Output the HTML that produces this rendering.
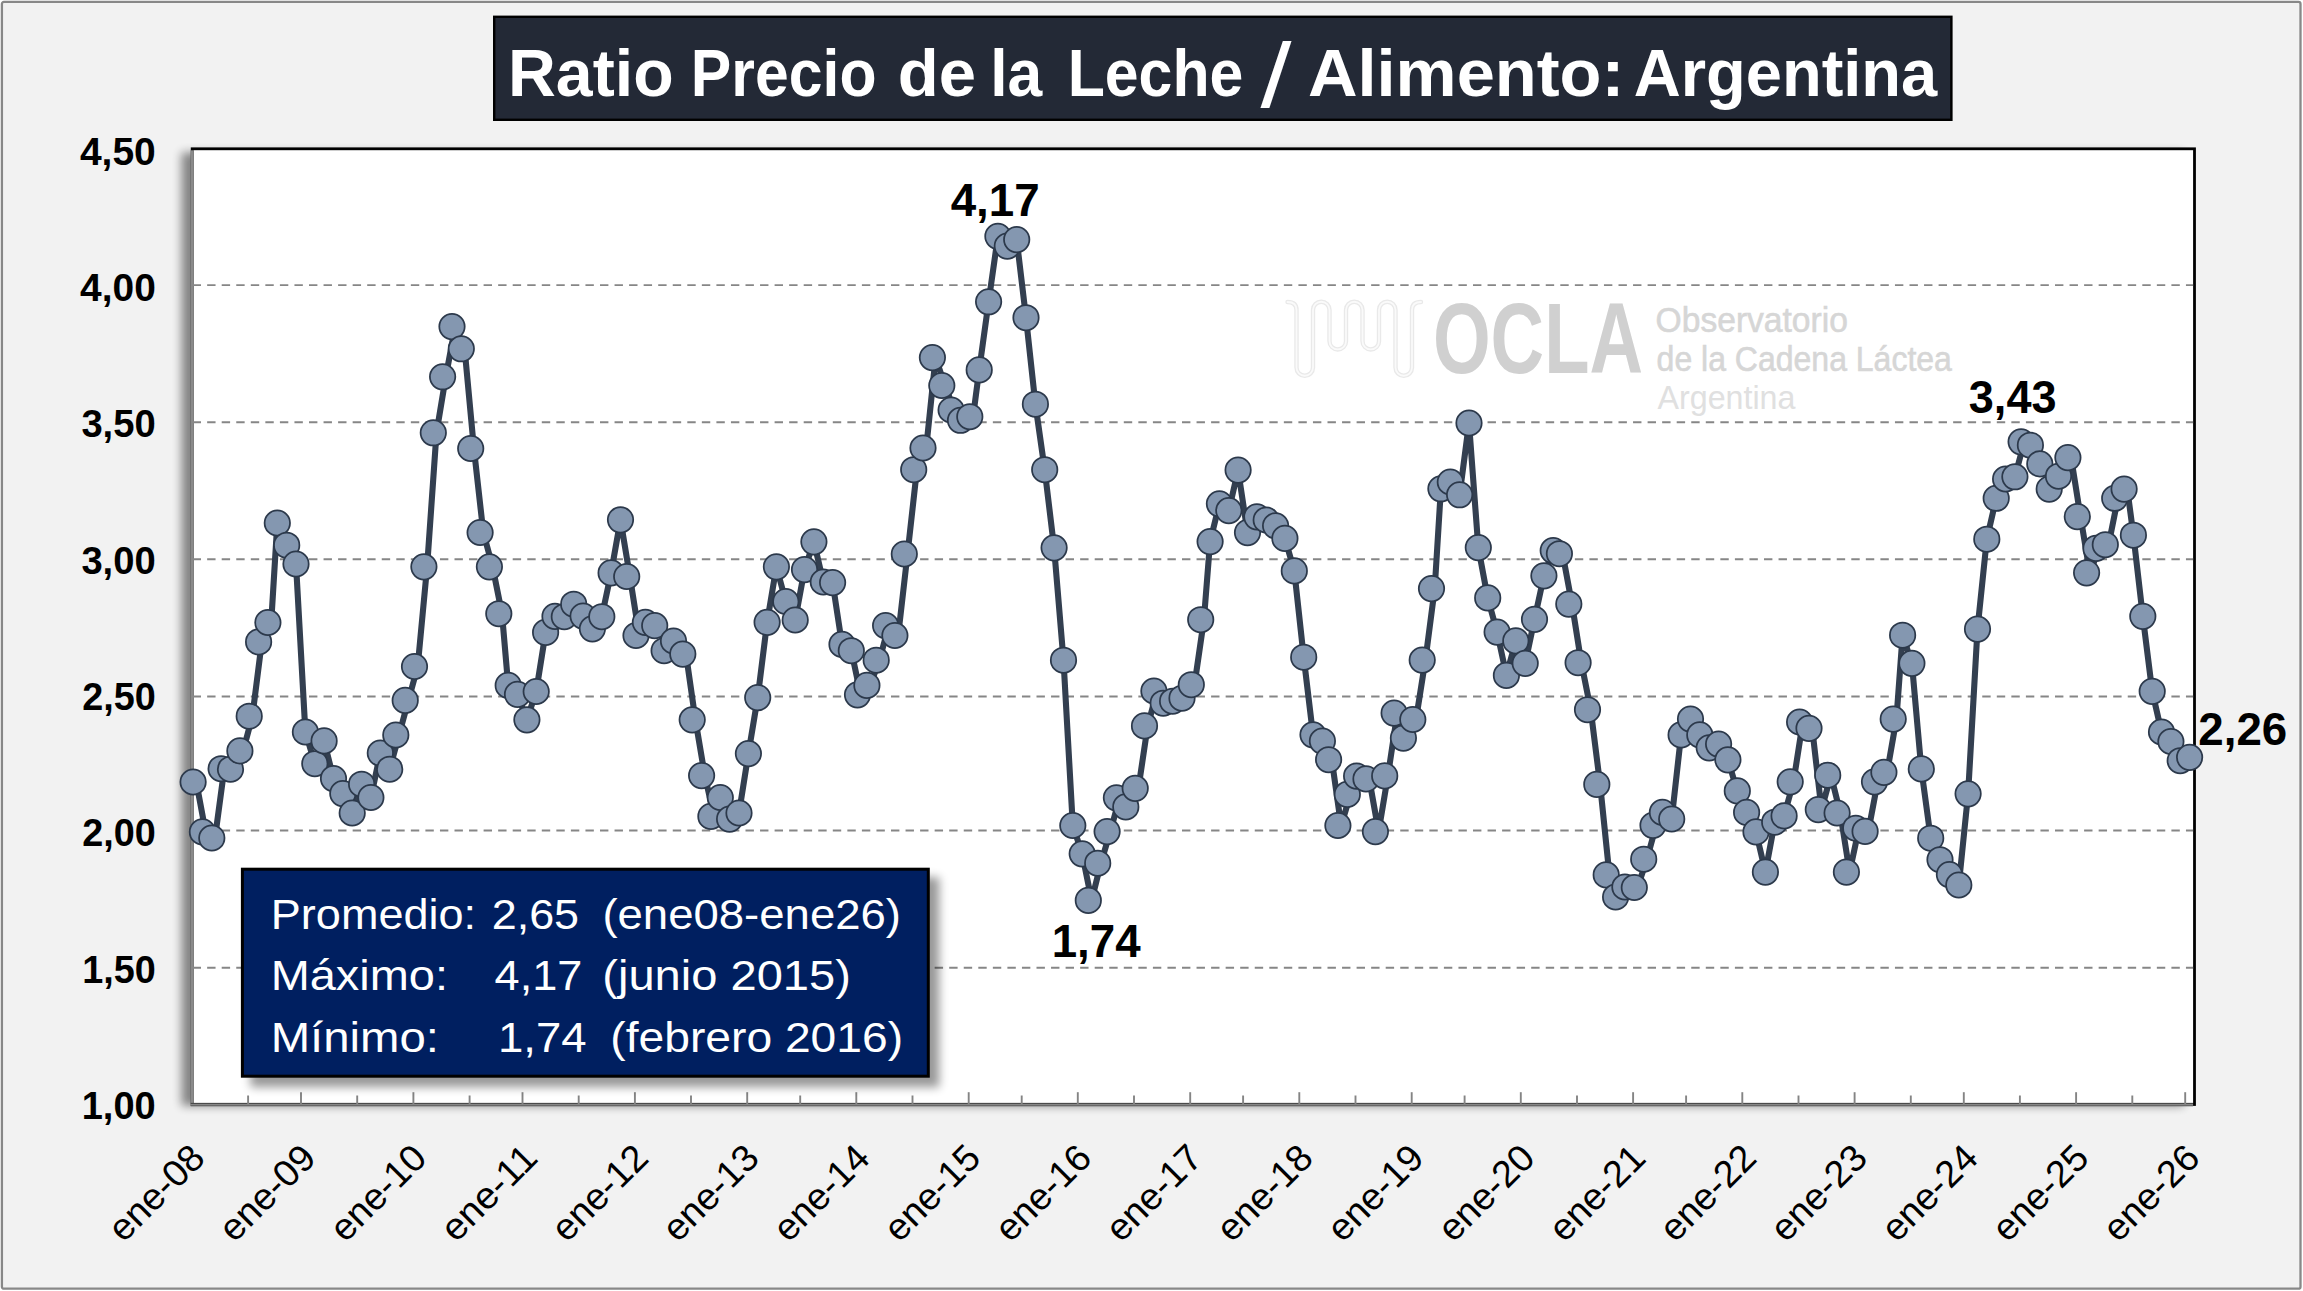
<!DOCTYPE html>
<html lang="es"><head><meta charset="utf-8"><title>Ratio Precio de la Leche / Alimento: Argentina</title>
<style>html,body{margin:0;padding:0;background:#fff}svg{display:block}text{font-family:"Liberation Sans",sans-serif}</style></head><body>
<svg width="2303" height="1291" viewBox="0 0 2303 1291">
<defs><filter id="sh1" x="-5%" y="-5%" width="110%" height="110%"><feGaussianBlur stdDeviation="5"/></filter><filter id="sh2" x="-10%" y="-20%" width="120%" height="140%"><feGaussianBlur stdDeviation="5"/></filter></defs>
<rect x="0" y="0" width="2303" height="1291" fill="#fff"/>
<rect x="1.9" y="1.9" width="2298.6" height="1286.8" rx="2" fill="#f2f2f2" stroke="#888" stroke-width="2.3"/>
<rect x="494.2" y="16.8" width="1457.2" height="103" fill="#232936" stroke="#000" stroke-width="2.4"/>
<g id="title">
<text x="508.0" y="96.4" font-size="66.5" font-weight="bold" fill="#fff" textLength="165.6" lengthAdjust="spacingAndGlyphs">Ratio</text>
<text x="690.8" y="96.4" font-size="66.5" font-weight="bold" fill="#fff" textLength="185.7" lengthAdjust="spacingAndGlyphs">Precio</text>
<text x="897.8" y="96.4" font-size="66.5" font-weight="bold" fill="#fff" textLength="78.3" lengthAdjust="spacingAndGlyphs">de</text>
<text x="990.2" y="96.4" font-size="66.5" font-weight="bold" fill="#fff" textLength="52.0" lengthAdjust="spacingAndGlyphs">la</text>
<text x="1067.7" y="96.4" font-size="66.5" font-weight="bold" fill="#fff" textLength="175.6" lengthAdjust="spacingAndGlyphs">Leche</text>
<text x="1260.5" y="106.6" font-size="90" fill="#fff" textLength="31.0" lengthAdjust="spacingAndGlyphs">/</text>
<text x="1307.9" y="96.4" font-size="66.5" font-weight="bold" fill="#fff" textLength="316.5" lengthAdjust="spacingAndGlyphs">Alimento:</text>
<text x="1633.7" y="96.4" font-size="66.5" font-weight="bold" fill="#fff" textLength="303.6" lengthAdjust="spacingAndGlyphs">Argentina</text>
</g>
<rect x="181.5" y="152.5" width="2002.3" height="953.3" fill="#000" opacity="0.45" filter="url(#sh1)"/>
<rect x="192.2" y="148.8" width="2002.3" height="955.7" fill="#fff" stroke="#000" stroke-width="2.8"/>
<line x1="192.6" x2="2193.1" y1="285.1" y2="285.1" stroke="#868686" stroke-width="1.9" stroke-dasharray="8.4 6.15"/>
<line x1="192.6" x2="2193.1" y1="422.3" y2="422.3" stroke="#868686" stroke-width="1.9" stroke-dasharray="8.4 6.15"/>
<line x1="192.6" x2="2193.1" y1="559.3" y2="559.3" stroke="#868686" stroke-width="1.9" stroke-dasharray="8.4 6.15"/>
<line x1="192.6" x2="2193.1" y1="696.5" y2="696.5" stroke="#868686" stroke-width="1.9" stroke-dasharray="8.4 6.15"/>
<line x1="192.6" x2="2193.1" y1="830.5" y2="830.5" stroke="#868686" stroke-width="1.9" stroke-dasharray="8.4 6.15"/>
<line x1="192.6" x2="2193.1" y1="967.8" y2="967.8" stroke="#868686" stroke-width="1.9" stroke-dasharray="8.4 6.15"/>
<g id="logo">
<path d="M1287.5,302 q9,0 9,8 V367.5 a8.25,8.25 0 0 0 16.5,0 V310 a8.25,8.25 0 0 1 16.5,0 V341.2 a8.25,8.25 0 0 0 16.5,0 V310 a8.25,8.25 0 0 1 16.5,0 V341.2 a8.25,8.25 0 0 0 16.5,0 V310 a8.25,8.25 0 0 1 16.5,0 V367.5 a8.25,8.25 0 0 0 16.5,0 V310 q0,-8 9,-8" fill="none" stroke="#e9e9e9" stroke-width="4.4" stroke-linecap="round"/>
<path d="M1287.5,302 q9,0 9,8 V367.5 a8.25,8.25 0 0 0 16.5,0 V310 a8.25,8.25 0 0 1 16.5,0 V341.2 a8.25,8.25 0 0 0 16.5,0 V310 a8.25,8.25 0 0 1 16.5,0 V341.2 a8.25,8.25 0 0 0 16.5,0 V310 a8.25,8.25 0 0 1 16.5,0 V367.5 a8.25,8.25 0 0 0 16.5,0 V310 q0,-8 9,-8" fill="none" stroke="#fafafa" stroke-width="1.8" stroke-linecap="round"/>
<text x="1432.9" y="373.2" font-size="100" font-weight="bold" fill="#d0d0d0" textLength="210.1" lengthAdjust="spacingAndGlyphs">OCLA</text>
<text x="1655.6" y="332.3" font-size="35" fill="#d6d6d6" stroke="#d6d6d6" stroke-width="0.6" textLength="192.3" lengthAdjust="spacingAndGlyphs">Observatorio</text>
<text x="1656.6" y="370.6" font-size="35" fill="#d6d6d6" stroke="#d6d6d6" stroke-width="0.6" textLength="295.3" lengthAdjust="spacingAndGlyphs">de la Cadena Láctea</text>
<text x="1657.5" y="409.2" font-size="34" fill="#e0e0e0" textLength="137.9" lengthAdjust="spacingAndGlyphs">Argentina</text>
</g>
<line x1="192.2" x2="192.2" y1="150.20000000000002" y2="1105.9" stroke="#8a8a8a" stroke-width="3"/>
<rect x="190.7" y="1102.85" width="2002.3999999999999" height="1.2" fill="#4a4a4a"/>
<rect x="190.7" y="1104.0" width="2002.3999999999999" height="1.0" fill="#8a8a8a"/>
<rect x="190.7" y="1104.95" width="2002.3999999999999" height="1.35" fill="#686868"/>
<line x1="248.1" x2="248.1" y1="1095.5" y2="1104.5" stroke="#848484" stroke-width="1.9"/>
<line x1="301.0" x2="301.0" y1="1092.2" y2="1104.5" stroke="#848484" stroke-width="1.9"/>
<line x1="357.2" x2="357.2" y1="1095.5" y2="1104.5" stroke="#848484" stroke-width="1.9"/>
<line x1="413.4" x2="413.4" y1="1092.2" y2="1104.5" stroke="#848484" stroke-width="1.9"/>
<line x1="469.6" x2="469.6" y1="1095.5" y2="1104.5" stroke="#848484" stroke-width="1.9"/>
<line x1="522.5" x2="522.5" y1="1092.2" y2="1104.5" stroke="#848484" stroke-width="1.9"/>
<line x1="578.7" x2="578.7" y1="1095.5" y2="1104.5" stroke="#848484" stroke-width="1.9"/>
<line x1="634.9" x2="634.9" y1="1092.2" y2="1104.5" stroke="#848484" stroke-width="1.9"/>
<line x1="691.0" x2="691.0" y1="1095.5" y2="1104.5" stroke="#848484" stroke-width="1.9"/>
<line x1="747.2" x2="747.2" y1="1092.2" y2="1104.5" stroke="#848484" stroke-width="1.9"/>
<line x1="800.2" x2="800.2" y1="1095.5" y2="1104.5" stroke="#848484" stroke-width="1.9"/>
<line x1="856.3" x2="856.3" y1="1092.2" y2="1104.5" stroke="#848484" stroke-width="1.9"/>
<line x1="912.5" x2="912.5" y1="1095.5" y2="1104.5" stroke="#848484" stroke-width="1.9"/>
<line x1="968.7" x2="968.7" y1="1092.2" y2="1104.5" stroke="#848484" stroke-width="1.9"/>
<line x1="1021.7" x2="1021.7" y1="1095.5" y2="1104.5" stroke="#848484" stroke-width="1.9"/>
<line x1="1077.8" x2="1077.8" y1="1092.2" y2="1104.5" stroke="#848484" stroke-width="1.9"/>
<line x1="1134.0" x2="1134.0" y1="1095.5" y2="1104.5" stroke="#848484" stroke-width="1.9"/>
<line x1="1190.2" x2="1190.2" y1="1092.2" y2="1104.5" stroke="#848484" stroke-width="1.9"/>
<line x1="1243.1" x2="1243.1" y1="1095.5" y2="1104.5" stroke="#848484" stroke-width="1.9"/>
<line x1="1299.3" x2="1299.3" y1="1092.2" y2="1104.5" stroke="#848484" stroke-width="1.9"/>
<line x1="1355.5" x2="1355.5" y1="1095.5" y2="1104.5" stroke="#848484" stroke-width="1.9"/>
<line x1="1411.7" x2="1411.7" y1="1092.2" y2="1104.5" stroke="#848484" stroke-width="1.9"/>
<line x1="1464.6" x2="1464.6" y1="1095.5" y2="1104.5" stroke="#848484" stroke-width="1.9"/>
<line x1="1520.8" x2="1520.8" y1="1092.2" y2="1104.5" stroke="#848484" stroke-width="1.9"/>
<line x1="1577.0" x2="1577.0" y1="1095.5" y2="1104.5" stroke="#848484" stroke-width="1.9"/>
<line x1="1633.1" x2="1633.1" y1="1092.2" y2="1104.5" stroke="#848484" stroke-width="1.9"/>
<line x1="1686.1" x2="1686.1" y1="1095.5" y2="1104.5" stroke="#848484" stroke-width="1.9"/>
<line x1="1742.3" x2="1742.3" y1="1092.2" y2="1104.5" stroke="#848484" stroke-width="1.9"/>
<line x1="1798.5" x2="1798.5" y1="1095.5" y2="1104.5" stroke="#848484" stroke-width="1.9"/>
<line x1="1854.6" x2="1854.6" y1="1092.2" y2="1104.5" stroke="#848484" stroke-width="1.9"/>
<line x1="1910.8" x2="1910.8" y1="1095.5" y2="1104.5" stroke="#848484" stroke-width="1.9"/>
<line x1="1963.8" x2="1963.8" y1="1092.2" y2="1104.5" stroke="#848484" stroke-width="1.9"/>
<line x1="2019.9" x2="2019.9" y1="1095.5" y2="1104.5" stroke="#848484" stroke-width="1.9"/>
<line x1="2076.1" x2="2076.1" y1="1092.2" y2="1104.5" stroke="#848484" stroke-width="1.9"/>
<line x1="2132.3" x2="2132.3" y1="1095.5" y2="1104.5" stroke="#848484" stroke-width="1.9"/>
<line x1="2185.2" x2="2185.2" y1="1092.2" y2="1104.5" stroke="#848484" stroke-width="1.9"/>
<polyline points="196.3,782.0 205.6,831.9 215.0,838.0 224.3,768.7 233.7,769.2 243.1,750.9 252.4,716.2 261.8,641.9 271.2,622.5 277.3,523.0 286.7,545.2 296.0,564.0 305.4,732.0 314.8,763.7 324.1,740.9 333.5,778.6 342.8,793.6 352.2,813.0 361.6,784.2 370.9,797.5 380.3,753.1 389.7,769.2 399.0,735.0 408.4,700.4 417.7,666.5 427.1,566.8 436.5,432.8 445.8,376.8 455.2,326.6 464.6,348.8 473.9,448.5 483.3,532.5 492.6,566.8 502.0,613.7 508.2,685.4 517.5,694.3 526.9,719.8 536.2,691.5 545.6,632.4 555.0,616.4 564.3,616.7 573.7,604.2 583.1,616.1 592.4,628.8 601.8,616.7 611.1,572.9 620.5,519.8 629.9,576.5 639.2,635.5 648.6,622.3 658.0,625.6 667.3,650.7 676.7,641.0 686.0,654.1 695.4,719.8 704.8,775.6 714.1,816.4 723.5,797.5 732.8,819.1 739.0,813.0 748.4,753.6 757.7,697.6 767.1,622.3 776.4,566.8 785.8,601.5 795.2,620.0 804.5,569.6 813.9,541.8 823.3,582.0 832.6,582.6 842.0,644.4 851.3,650.7 860.7,694.8 870.1,685.4 879.4,660.2 888.8,625.6 898.2,635.5 907.5,554.0 916.9,469.7 926.2,448.0 935.6,357.6 945.0,385.5 954.3,410.0 963.7,420.3 973.1,416.7 979.2,369.9 988.6,301.8 997.9,236.3 1007.3,246.1 1016.7,239.6 1026.0,317.7 1035.4,404.2 1044.7,469.7 1054.1,547.8 1063.5,660.2 1072.8,825.5 1082.2,853.8 1091.6,900.4 1100.9,863.2 1110.3,831.6 1119.6,797.8 1129.0,806.9 1138.4,788.3 1147.7,725.9 1157.1,691.0 1166.5,703.2 1175.8,701.2 1185.2,698.2 1194.5,684.7 1203.9,619.7 1210.1,541.6 1219.4,503.8 1228.8,510.6 1238.1,470.1 1247.5,532.6 1256.9,516.8 1266.2,520.0 1275.6,525.8 1284.9,538.4 1294.3,570.9 1303.7,657.2 1313.0,734.8 1322.4,741.1 1331.8,759.7 1341.1,825.5 1350.5,794.4 1359.8,776.1 1369.2,778.9 1378.6,831.6 1387.9,775.9 1397.3,713.1 1406.7,738.1 1416.0,719.5 1425.4,660.1 1434.7,588.6 1440.9,488.8 1450.3,482.0 1459.6,494.8 1469.0,423.0 1478.3,547.6 1487.7,597.9 1497.1,632.1 1506.4,675.4 1515.8,640.9 1525.2,663.3 1534.5,619.3 1543.9,575.8 1553.2,550.6 1562.6,553.7 1572.0,604.1 1581.3,662.7 1590.7,709.7 1600.1,784.4 1609.4,874.9 1618.8,897.0 1628.1,887.0 1637.5,887.5 1646.9,859.2 1656.2,825.3 1665.6,812.4 1671.7,819.0 1681.1,734.9 1690.5,719.1 1699.8,734.9 1709.2,747.8 1718.6,744.1 1727.9,759.8 1737.3,790.9 1746.6,812.4 1756.0,831.9 1765.4,872.1 1774.7,822.2 1784.1,815.9 1793.5,781.8 1802.8,722.0 1812.2,728.3 1821.5,809.6 1830.9,775.2 1840.3,813.0 1849.6,872.1 1859.0,828.2 1868.3,831.4 1877.7,781.8 1887.1,772.3 1896.4,719.1 1902.6,635.2 1911.9,663.3 1921.3,768.9 1930.7,838.2 1940.0,859.7 1949.4,874.6 1958.8,885.0 1968.1,793.8 1977.5,629.1 1986.8,539.2 1996.2,498.3 2005.6,479.0 2014.9,476.8 2024.3,441.8 2033.7,445.2 2043.0,463.9 2052.4,489.1 2061.7,476.2 2071.1,457.6 2080.5,516.6 2089.8,572.8 2099.2,548.4 2108.6,544.7 2117.9,498.3 2127.3,489.1 2133.4,535.2 2142.8,616.3 2152.2,691.3 2161.5,732.0 2170.9,741.5 2180.2,760.7 2189.6,757.3" fill="none" stroke="#333f50" stroke-width="6.1" stroke-linejoin="round" stroke-linecap="round"/>
<g fill="#8497b0" stroke="#2c394b" stroke-width="1.75">
<circle cx="193.1" cy="782.0" r="12.7"/>
<circle cx="202.4" cy="831.9" r="12.7"/>
<circle cx="211.8" cy="838.0" r="12.7"/>
<circle cx="221.1" cy="768.7" r="12.7"/>
<circle cx="230.5" cy="769.2" r="12.7"/>
<circle cx="239.9" cy="750.9" r="12.7"/>
<circle cx="249.2" cy="716.2" r="12.7"/>
<circle cx="258.6" cy="641.9" r="12.7"/>
<circle cx="267.9" cy="622.5" r="12.7"/>
<circle cx="277.3" cy="523.0" r="12.7"/>
<circle cx="286.7" cy="545.2" r="12.7"/>
<circle cx="296.0" cy="564.0" r="12.7"/>
<circle cx="305.4" cy="732.0" r="12.7"/>
<circle cx="314.8" cy="763.7" r="12.7"/>
<circle cx="324.1" cy="740.9" r="12.7"/>
<circle cx="333.5" cy="778.6" r="12.7"/>
<circle cx="342.8" cy="793.6" r="12.7"/>
<circle cx="352.2" cy="813.0" r="12.7"/>
<circle cx="361.6" cy="784.2" r="12.7"/>
<circle cx="370.9" cy="797.5" r="12.7"/>
<circle cx="380.3" cy="753.1" r="12.7"/>
<circle cx="389.7" cy="769.2" r="12.7"/>
<circle cx="395.8" cy="735.0" r="12.7"/>
<circle cx="405.2" cy="700.4" r="12.7"/>
<circle cx="414.5" cy="666.5" r="12.7"/>
<circle cx="423.9" cy="566.8" r="12.7"/>
<circle cx="433.3" cy="432.8" r="12.7"/>
<circle cx="442.6" cy="376.8" r="12.7"/>
<circle cx="452.0" cy="326.6" r="12.7"/>
<circle cx="461.3" cy="348.8" r="12.7"/>
<circle cx="470.7" cy="448.5" r="12.7"/>
<circle cx="480.1" cy="532.5" r="12.7"/>
<circle cx="489.4" cy="566.8" r="12.7"/>
<circle cx="498.8" cy="613.7" r="12.7"/>
<circle cx="508.2" cy="685.4" r="12.7"/>
<circle cx="517.5" cy="694.3" r="12.7"/>
<circle cx="526.9" cy="719.8" r="12.7"/>
<circle cx="536.2" cy="691.5" r="12.7"/>
<circle cx="545.6" cy="632.4" r="12.7"/>
<circle cx="555.0" cy="616.4" r="12.7"/>
<circle cx="564.3" cy="616.7" r="12.7"/>
<circle cx="573.7" cy="604.2" r="12.7"/>
<circle cx="583.1" cy="616.1" r="12.7"/>
<circle cx="592.4" cy="628.8" r="12.7"/>
<circle cx="601.8" cy="616.7" r="12.7"/>
<circle cx="611.1" cy="572.9" r="12.7"/>
<circle cx="620.5" cy="519.8" r="12.7"/>
<circle cx="626.7" cy="576.5" r="12.7"/>
<circle cx="636.0" cy="635.5" r="12.7"/>
<circle cx="645.4" cy="622.3" r="12.7"/>
<circle cx="654.7" cy="625.6" r="12.7"/>
<circle cx="664.1" cy="650.7" r="12.7"/>
<circle cx="673.5" cy="641.0" r="12.7"/>
<circle cx="682.8" cy="654.1" r="12.7"/>
<circle cx="692.2" cy="719.8" r="12.7"/>
<circle cx="701.6" cy="775.6" r="12.7"/>
<circle cx="710.9" cy="816.4" r="12.7"/>
<circle cx="720.3" cy="797.5" r="12.7"/>
<circle cx="729.6" cy="819.1" r="12.7"/>
<circle cx="739.0" cy="813.0" r="12.7"/>
<circle cx="748.4" cy="753.6" r="12.7"/>
<circle cx="757.7" cy="697.6" r="12.7"/>
<circle cx="767.1" cy="622.3" r="12.7"/>
<circle cx="776.4" cy="566.8" r="12.7"/>
<circle cx="785.8" cy="601.5" r="12.7"/>
<circle cx="795.2" cy="620.0" r="12.7"/>
<circle cx="804.5" cy="569.6" r="12.7"/>
<circle cx="813.9" cy="541.8" r="12.7"/>
<circle cx="823.3" cy="582.0" r="12.7"/>
<circle cx="832.6" cy="582.6" r="12.7"/>
<circle cx="842.0" cy="644.4" r="12.7"/>
<circle cx="851.3" cy="650.7" r="12.7"/>
<circle cx="857.5" cy="694.8" r="12.7"/>
<circle cx="866.9" cy="685.4" r="12.7"/>
<circle cx="876.2" cy="660.2" r="12.7"/>
<circle cx="885.6" cy="625.6" r="12.7"/>
<circle cx="894.9" cy="635.5" r="12.7"/>
<circle cx="904.3" cy="554.0" r="12.7"/>
<circle cx="913.7" cy="469.7" r="12.7"/>
<circle cx="923.0" cy="448.0" r="12.7"/>
<circle cx="932.4" cy="357.6" r="12.7"/>
<circle cx="941.8" cy="385.5" r="12.7"/>
<circle cx="951.1" cy="410.0" r="12.7"/>
<circle cx="960.5" cy="420.3" r="12.7"/>
<circle cx="969.8" cy="416.7" r="12.7"/>
<circle cx="979.2" cy="369.9" r="12.7"/>
<circle cx="988.6" cy="301.8" r="12.7"/>
<circle cx="997.9" cy="236.3" r="12.7"/>
<circle cx="1007.3" cy="246.1" r="12.7"/>
<circle cx="1016.7" cy="239.6" r="12.7"/>
<circle cx="1026.0" cy="317.7" r="12.7"/>
<circle cx="1035.4" cy="404.2" r="12.7"/>
<circle cx="1044.7" cy="469.7" r="12.7"/>
<circle cx="1054.1" cy="547.8" r="12.7"/>
<circle cx="1063.5" cy="660.2" r="12.7"/>
<circle cx="1072.8" cy="825.5" r="12.7"/>
<circle cx="1082.2" cy="853.8" r="12.7"/>
<circle cx="1088.3" cy="900.4" r="12.7"/>
<circle cx="1097.7" cy="863.2" r="12.7"/>
<circle cx="1107.1" cy="831.6" r="12.7"/>
<circle cx="1116.4" cy="797.8" r="12.7"/>
<circle cx="1125.8" cy="806.9" r="12.7"/>
<circle cx="1135.2" cy="788.3" r="12.7"/>
<circle cx="1144.5" cy="725.9" r="12.7"/>
<circle cx="1153.9" cy="691.0" r="12.7"/>
<circle cx="1163.2" cy="703.2" r="12.7"/>
<circle cx="1172.6" cy="701.2" r="12.7"/>
<circle cx="1182.0" cy="698.2" r="12.7"/>
<circle cx="1191.3" cy="684.7" r="12.7"/>
<circle cx="1200.7" cy="619.7" r="12.7"/>
<circle cx="1210.1" cy="541.6" r="12.7"/>
<circle cx="1219.4" cy="503.8" r="12.7"/>
<circle cx="1228.8" cy="510.6" r="12.7"/>
<circle cx="1238.1" cy="470.1" r="12.7"/>
<circle cx="1247.5" cy="532.6" r="12.7"/>
<circle cx="1256.9" cy="516.8" r="12.7"/>
<circle cx="1266.2" cy="520.0" r="12.7"/>
<circle cx="1275.6" cy="525.8" r="12.7"/>
<circle cx="1284.9" cy="538.4" r="12.7"/>
<circle cx="1294.3" cy="570.9" r="12.7"/>
<circle cx="1303.7" cy="657.2" r="12.7"/>
<circle cx="1313.0" cy="734.8" r="12.7"/>
<circle cx="1322.4" cy="741.1" r="12.7"/>
<circle cx="1328.6" cy="759.7" r="12.7"/>
<circle cx="1337.9" cy="825.5" r="12.7"/>
<circle cx="1347.3" cy="794.4" r="12.7"/>
<circle cx="1356.6" cy="776.1" r="12.7"/>
<circle cx="1366.0" cy="778.9" r="12.7"/>
<circle cx="1375.4" cy="831.6" r="12.7"/>
<circle cx="1384.7" cy="775.9" r="12.7"/>
<circle cx="1394.1" cy="713.1" r="12.7"/>
<circle cx="1403.4" cy="738.1" r="12.7"/>
<circle cx="1412.8" cy="719.5" r="12.7"/>
<circle cx="1422.2" cy="660.1" r="12.7"/>
<circle cx="1431.5" cy="588.6" r="12.7"/>
<circle cx="1440.9" cy="488.8" r="12.7"/>
<circle cx="1450.3" cy="482.0" r="12.7"/>
<circle cx="1459.6" cy="494.8" r="12.7"/>
<circle cx="1469.0" cy="423.0" r="12.7"/>
<circle cx="1478.3" cy="547.6" r="12.7"/>
<circle cx="1487.7" cy="597.9" r="12.7"/>
<circle cx="1497.1" cy="632.1" r="12.7"/>
<circle cx="1506.4" cy="675.4" r="12.7"/>
<circle cx="1515.8" cy="640.9" r="12.7"/>
<circle cx="1525.2" cy="663.3" r="12.7"/>
<circle cx="1534.5" cy="619.3" r="12.7"/>
<circle cx="1543.9" cy="575.8" r="12.7"/>
<circle cx="1553.2" cy="550.6" r="12.7"/>
<circle cx="1559.4" cy="553.7" r="12.7"/>
<circle cx="1568.8" cy="604.1" r="12.7"/>
<circle cx="1578.1" cy="662.7" r="12.7"/>
<circle cx="1587.5" cy="709.7" r="12.7"/>
<circle cx="1596.8" cy="784.4" r="12.7"/>
<circle cx="1606.2" cy="874.9" r="12.7"/>
<circle cx="1615.6" cy="897.0" r="12.7"/>
<circle cx="1624.9" cy="887.0" r="12.7"/>
<circle cx="1634.3" cy="887.5" r="12.7"/>
<circle cx="1643.7" cy="859.2" r="12.7"/>
<circle cx="1653.0" cy="825.3" r="12.7"/>
<circle cx="1662.4" cy="812.4" r="12.7"/>
<circle cx="1671.7" cy="819.0" r="12.7"/>
<circle cx="1681.1" cy="734.9" r="12.7"/>
<circle cx="1690.5" cy="719.1" r="12.7"/>
<circle cx="1699.8" cy="734.9" r="12.7"/>
<circle cx="1709.2" cy="747.8" r="12.7"/>
<circle cx="1718.6" cy="744.1" r="12.7"/>
<circle cx="1727.9" cy="759.8" r="12.7"/>
<circle cx="1737.3" cy="790.9" r="12.7"/>
<circle cx="1746.6" cy="812.4" r="12.7"/>
<circle cx="1756.0" cy="831.9" r="12.7"/>
<circle cx="1765.4" cy="872.1" r="12.7"/>
<circle cx="1774.7" cy="822.2" r="12.7"/>
<circle cx="1784.1" cy="815.9" r="12.7"/>
<circle cx="1790.2" cy="781.8" r="12.7"/>
<circle cx="1799.6" cy="722.0" r="12.7"/>
<circle cx="1809.0" cy="728.3" r="12.7"/>
<circle cx="1818.3" cy="809.6" r="12.7"/>
<circle cx="1827.7" cy="775.2" r="12.7"/>
<circle cx="1837.1" cy="813.0" r="12.7"/>
<circle cx="1846.4" cy="872.1" r="12.7"/>
<circle cx="1855.8" cy="828.2" r="12.7"/>
<circle cx="1865.1" cy="831.4" r="12.7"/>
<circle cx="1874.5" cy="781.8" r="12.7"/>
<circle cx="1883.9" cy="772.3" r="12.7"/>
<circle cx="1893.2" cy="719.1" r="12.7"/>
<circle cx="1902.6" cy="635.2" r="12.7"/>
<circle cx="1911.9" cy="663.3" r="12.7"/>
<circle cx="1921.3" cy="768.9" r="12.7"/>
<circle cx="1930.7" cy="838.2" r="12.7"/>
<circle cx="1940.0" cy="859.7" r="12.7"/>
<circle cx="1949.4" cy="874.6" r="12.7"/>
<circle cx="1958.8" cy="885.0" r="12.7"/>
<circle cx="1968.1" cy="793.8" r="12.7"/>
<circle cx="1977.5" cy="629.1" r="12.7"/>
<circle cx="1986.8" cy="539.2" r="12.7"/>
<circle cx="1996.2" cy="498.3" r="12.7"/>
<circle cx="2005.6" cy="479.0" r="12.7"/>
<circle cx="2014.9" cy="476.8" r="12.7"/>
<circle cx="2021.1" cy="441.8" r="12.7"/>
<circle cx="2030.4" cy="445.2" r="12.7"/>
<circle cx="2039.8" cy="463.9" r="12.7"/>
<circle cx="2049.2" cy="489.1" r="12.7"/>
<circle cx="2058.5" cy="476.2" r="12.7"/>
<circle cx="2067.9" cy="457.6" r="12.7"/>
<circle cx="2077.3" cy="516.6" r="12.7"/>
<circle cx="2086.6" cy="572.8" r="12.7"/>
<circle cx="2096.0" cy="548.4" r="12.7"/>
<circle cx="2105.3" cy="544.7" r="12.7"/>
<circle cx="2114.7" cy="498.3" r="12.7"/>
<circle cx="2124.1" cy="489.1" r="12.7"/>
<circle cx="2133.4" cy="535.2" r="12.7"/>
<circle cx="2142.8" cy="616.3" r="12.7"/>
<circle cx="2152.2" cy="691.3" r="12.7"/>
<circle cx="2161.5" cy="732.0" r="12.7"/>
<circle cx="2170.9" cy="741.5" r="12.7"/>
<circle cx="2180.2" cy="760.7" r="12.7"/>
<circle cx="2189.6" cy="757.3" r="12.7"/>
</g>
<text x="79.9" y="164.6" font-size="38.3" font-weight="bold" fill="#000" textLength="75.9" lengthAdjust="spacingAndGlyphs">4,50</text>
<text x="80.1" y="300.9" font-size="38.3" font-weight="bold" fill="#000" textLength="75.7" lengthAdjust="spacingAndGlyphs">4,00</text>
<text x="81.4" y="437.3" font-size="38.3" font-weight="bold" fill="#000" textLength="74.3" lengthAdjust="spacingAndGlyphs">3,50</text>
<text x="81.4" y="573.6" font-size="38.3" font-weight="bold" fill="#000" textLength="74.3" lengthAdjust="spacingAndGlyphs">3,00</text>
<text x="82.2" y="710.0" font-size="38.3" font-weight="bold" fill="#000" textLength="73.5" lengthAdjust="spacingAndGlyphs">2,50</text>
<text x="82.2" y="846.3" font-size="38.3" font-weight="bold" fill="#000" textLength="73.5" lengthAdjust="spacingAndGlyphs">2,00</text>
<text x="82.2" y="982.6" font-size="38.3" font-weight="bold" fill="#000" textLength="73.5" lengthAdjust="spacingAndGlyphs">1,50</text>
<text x="81.7" y="1119.0" font-size="38.3" font-weight="bold" fill="#000" textLength="74.0" lengthAdjust="spacingAndGlyphs">1,00</text>
<text transform="translate(207.0,1160) rotate(-45)" font-size="37.5" text-anchor="end" textLength="118" lengthAdjust="spacingAndGlyphs">ene-08</text>
<text transform="translate(317.8,1160) rotate(-45)" font-size="37.5" text-anchor="end" textLength="118" lengthAdjust="spacingAndGlyphs">ene-09</text>
<text transform="translate(428.6,1160) rotate(-45)" font-size="37.5" text-anchor="end" textLength="118" lengthAdjust="spacingAndGlyphs">ene-10</text>
<text transform="translate(539.5,1160) rotate(-45)" font-size="37.5" text-anchor="end" textLength="118" lengthAdjust="spacingAndGlyphs">ene-11</text>
<text transform="translate(650.3,1160) rotate(-45)" font-size="37.5" text-anchor="end" textLength="118" lengthAdjust="spacingAndGlyphs">ene-12</text>
<text transform="translate(761.1,1160) rotate(-45)" font-size="37.5" text-anchor="end" textLength="118" lengthAdjust="spacingAndGlyphs">ene-13</text>
<text transform="translate(871.9,1160) rotate(-45)" font-size="37.5" text-anchor="end" textLength="118" lengthAdjust="spacingAndGlyphs">ene-14</text>
<text transform="translate(982.7,1160) rotate(-45)" font-size="37.5" text-anchor="end" textLength="118" lengthAdjust="spacingAndGlyphs">ene-15</text>
<text transform="translate(1093.6,1160) rotate(-45)" font-size="37.5" text-anchor="end" textLength="118" lengthAdjust="spacingAndGlyphs">ene-16</text>
<text transform="translate(1204.4,1160) rotate(-45)" font-size="37.5" text-anchor="end" textLength="118" lengthAdjust="spacingAndGlyphs">ene-17</text>
<text transform="translate(1315.2,1160) rotate(-45)" font-size="37.5" text-anchor="end" textLength="118" lengthAdjust="spacingAndGlyphs">ene-18</text>
<text transform="translate(1426.0,1160) rotate(-45)" font-size="37.5" text-anchor="end" textLength="118" lengthAdjust="spacingAndGlyphs">ene-19</text>
<text transform="translate(1536.8,1160) rotate(-45)" font-size="37.5" text-anchor="end" textLength="118" lengthAdjust="spacingAndGlyphs">ene-20</text>
<text transform="translate(1647.7,1160) rotate(-45)" font-size="37.5" text-anchor="end" textLength="118" lengthAdjust="spacingAndGlyphs">ene-21</text>
<text transform="translate(1758.5,1160) rotate(-45)" font-size="37.5" text-anchor="end" textLength="118" lengthAdjust="spacingAndGlyphs">ene-22</text>
<text transform="translate(1869.3,1160) rotate(-45)" font-size="37.5" text-anchor="end" textLength="118" lengthAdjust="spacingAndGlyphs">ene-23</text>
<text transform="translate(1980.1,1160) rotate(-45)" font-size="37.5" text-anchor="end" textLength="118" lengthAdjust="spacingAndGlyphs">ene-24</text>
<text transform="translate(2090.9,1160) rotate(-45)" font-size="37.5" text-anchor="end" textLength="118" lengthAdjust="spacingAndGlyphs">ene-25</text>
<text transform="translate(2201.8,1160) rotate(-45)" font-size="37.5" text-anchor="end" textLength="118" lengthAdjust="spacingAndGlyphs">ene-26</text>
<text x="950.7" y="216.4" font-size="46" font-weight="bold" fill="#000" textLength="89.0" lengthAdjust="spacingAndGlyphs">4,17</text>
<text x="1051.7" y="957.1" font-size="46" font-weight="bold" fill="#000" textLength="88.9" lengthAdjust="spacingAndGlyphs">1,74</text>
<text x="1968.8" y="412.6" font-size="46" font-weight="bold" fill="#000" textLength="87.7" lengthAdjust="spacingAndGlyphs">3,43</text>
<text x="2198.3" y="745.1" font-size="46" font-weight="bold" fill="#000" textLength="88.9" lengthAdjust="spacingAndGlyphs">2,26</text>
<rect x="250.4" y="877.2" width="688.9" height="210" fill="#000" opacity="0.4" filter="url(#sh2)"/>
<rect x="242.4" y="869.2" width="685.9" height="207" fill="#001f60" stroke="#000" stroke-width="3"/>
<g id="legend">
<text x="270.8" y="928.7" font-size="42.5" fill="#fff" textLength="205.3" lengthAdjust="spacingAndGlyphs">Promedio:</text>
<text x="491.7" y="928.7" font-size="42.5" fill="#fff" textLength="87.4" lengthAdjust="spacingAndGlyphs">2,65</text>
<text x="602.4" y="928.7" font-size="42.5" fill="#fff" textLength="298.6" lengthAdjust="spacingAndGlyphs">(ene08-ene26)</text>
<text x="270.7" y="990.4" font-size="42.5" fill="#fff" textLength="177.3" lengthAdjust="spacingAndGlyphs">Máximo:</text>
<text x="494.6" y="990.4" font-size="42.5" fill="#fff" textLength="87.7" lengthAdjust="spacingAndGlyphs">4,17</text>
<text x="602.3" y="990.4" font-size="42.5" fill="#fff" textLength="248.6" lengthAdjust="spacingAndGlyphs">(junio 2015)</text>
<text x="270.7" y="1051.8" font-size="42.5" fill="#fff" textLength="168.2" lengthAdjust="spacingAndGlyphs">Mínimo:</text>
<text x="498.0" y="1051.8" font-size="42.5" fill="#fff" textLength="88.6" lengthAdjust="spacingAndGlyphs">1,74</text>
<text x="610.3" y="1051.8" font-size="42.5" fill="#fff" textLength="292.8" lengthAdjust="spacingAndGlyphs">(febrero 2016)</text>
</g>
</svg></body></html>
